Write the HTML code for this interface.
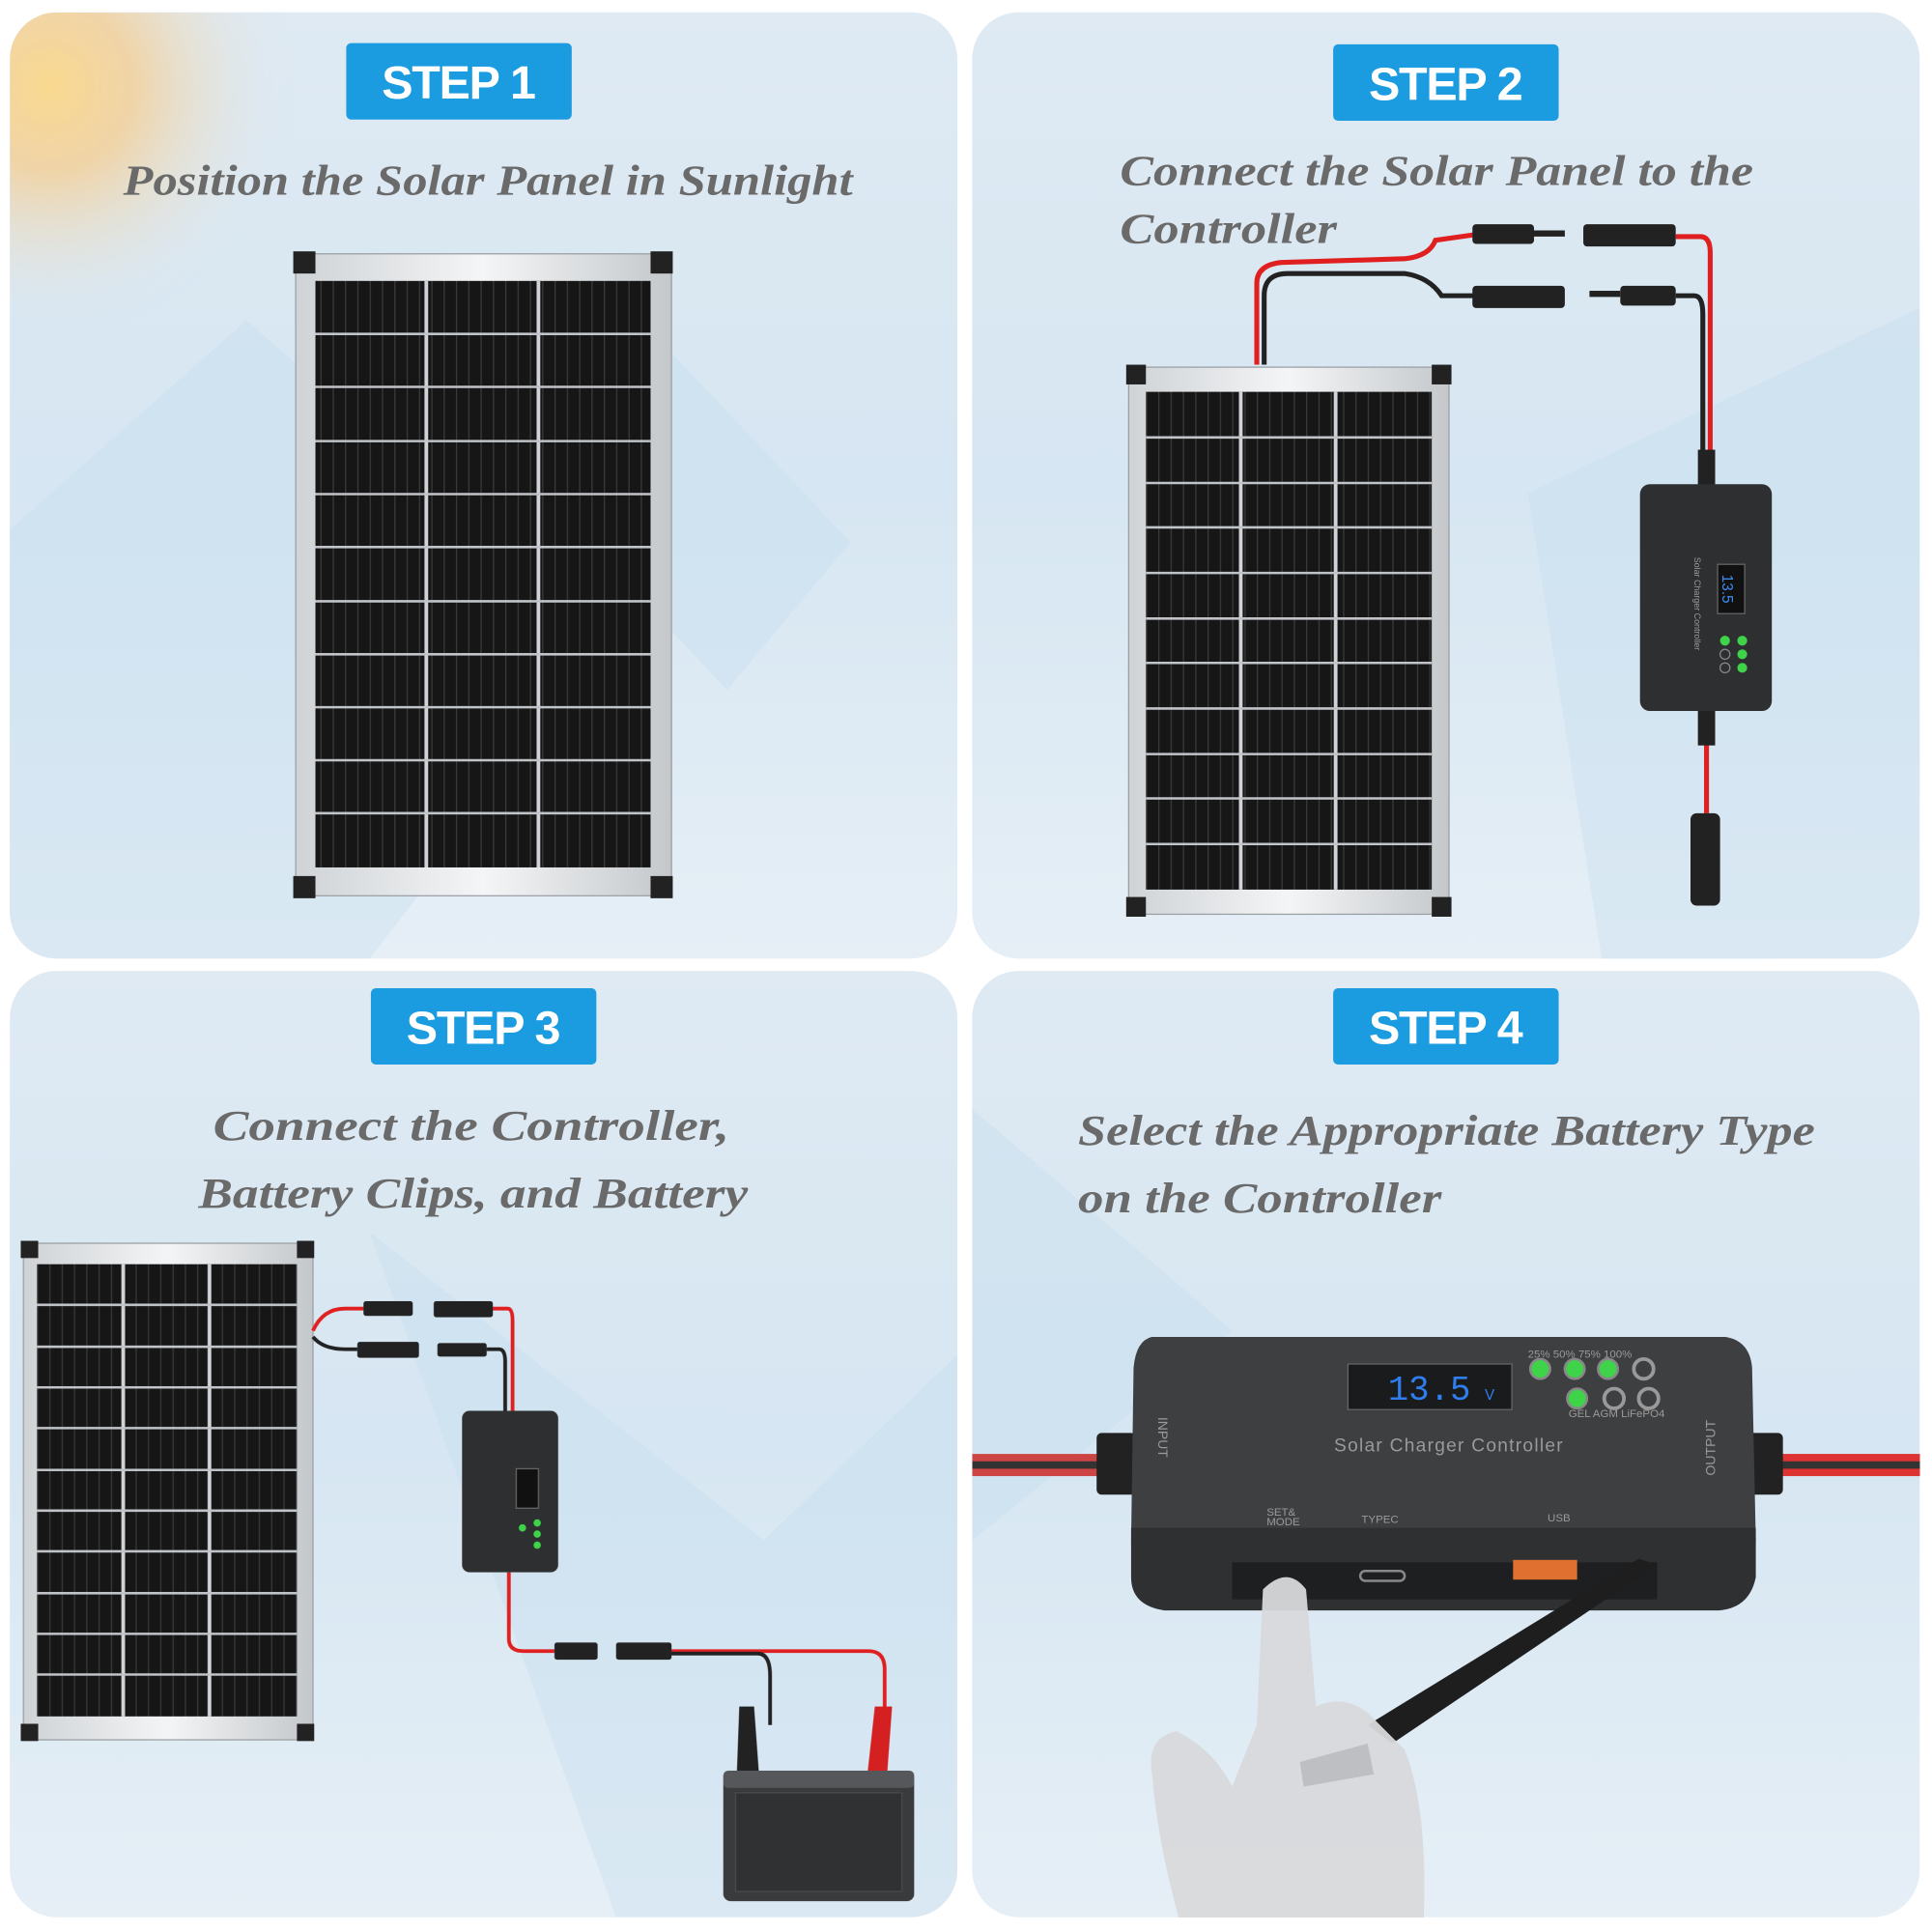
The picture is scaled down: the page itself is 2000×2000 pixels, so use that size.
<!DOCTYPE html>
<html><head><meta charset="utf-8"><style>
html,body{margin:0;padding:0;background:#fff;width:2000px;height:2000px;overflow:hidden}
svg{display:block}
.badge{font-family:"Liberation Sans",sans-serif;font-weight:bold;fill:#fff;font-size:38px;letter-spacing:-1px}
.title{font-family:"Liberation Serif",serif;font-style:italic;font-weight:bold;fill:#6a6a6a;font-size:35px}
.sm{font-family:"Liberation Sans",sans-serif;fill:#9a9a9a}
</style></head><body>
<svg width="2000" height="2000" viewBox="0 0 1568 1568" xmlns="http://www.w3.org/2000/svg">
<defs>
<linearGradient id="bg" x1="0" y1="0" x2="0" y2="1">
<stop offset="0" stop-color="#dfeaf3"/><stop offset="0.5" stop-color="#d6e6f2"/><stop offset="1" stop-color="#e6eff6"/></linearGradient>
<radialGradient id="sun" cx="40" cy="70" r="200" gradientUnits="userSpaceOnUse">
<stop offset="0" stop-color="#f9d98f"/><stop offset="0.35" stop-color="#f4cf96" stop-opacity="0.8"/><stop offset="1" stop-color="#e0ebf4" stop-opacity="0"/></radialGradient>
<pattern id="cell" width="10" height="10" patternUnits="userSpaceOnUse">
<rect width="10" height="10" fill="#161616"/><rect x="0" width="1" height="10" fill="#3a3a3a"/></pattern>
<linearGradient id="frame" x1="0" y1="0" x2="1" y2="0"><stop offset="0" stop-color="#cfd3d6"/><stop offset=".5" stop-color="#f4f5f6"/><stop offset="1" stop-color="#c4c8cb"/></linearGradient>
<clipPath id="q1"><rect x="8" y="10" width="769" height="768" rx="38"/></clipPath>
<clipPath id="q2"><rect x="789" y="10" width="769" height="768" rx="38"/></clipPath>
<clipPath id="q3"><rect x="8" y="788" width="769" height="768" rx="38"/></clipPath>
<clipPath id="q4"><rect x="789" y="788" width="769" height="768" rx="38"/></clipPath>
</defs>
<rect width="1568" height="1568" fill="#fff"/>
<rect x="8" y="10" width="769" height="768" rx="38" fill="url(#bg)"/>
<rect x="789" y="10" width="769" height="768" rx="38" fill="url(#bg)"/>
<rect x="8" y="788" width="769" height="768" rx="38" fill="url(#bg)"/>
<rect x="789" y="788" width="769" height="768" rx="38" fill="url(#bg)"/>
<g opacity="0.35" fill="#c4dcee">
<polygon points="8,430 200,260 500,520 300,778 8,778" clip-path="url(#q1)"/>
<polygon points="520,260 690,440 590,560 440,400"/>
<polygon points="1240,400 1558,250 1558,778 1300,778" clip-path="url(#q2)"/>
<polygon points="300,1000 620,1250 777,1100 777,1556 500,1556" clip-path="url(#q3)"/>
<polygon points="789,900 1000,1080 789,1250" clip-path="url(#q4)"/>
</g>
<rect x="8" y="10" width="769" height="768" rx="38" fill="url(#sun)" clip-path="url(#q1)"/>

<rect x="281" y="35" width="183" height="62" rx="4" fill="#1b9be0"/><text class="badge" x="372" y="80" text-anchor="middle">STEP 1</text>
<rect x="1082" y="36" width="183" height="62" rx="4" fill="#1b9be0"/><text class="badge" x="1173" y="81" text-anchor="middle">STEP 2</text>
<rect x="301" y="802" width="183" height="62" rx="4" fill="#1b9be0"/><text class="badge" x="392" y="847" text-anchor="middle">STEP 3</text>
<rect x="1082" y="802" width="183" height="62" rx="4" fill="#1b9be0"/><text class="badge" x="1173" y="847" text-anchor="middle">STEP 4</text>

<text class="title" x="100" y="158" textLength="592" lengthAdjust="spacingAndGlyphs">Position the Solar Panel in Sunlight</text>
<text class="title" x="909" y="150" textLength="514" lengthAdjust="spacingAndGlyphs">Connect the Solar Panel to the</text>
<text class="title" x="909" y="197" textLength="176" lengthAdjust="spacingAndGlyphs">Controller</text>
<text class="title" x="173" y="925" textLength="419" lengthAdjust="spacingAndGlyphs">Connect the Controller,</text>
<text class="title" x="161" y="980" textLength="446" lengthAdjust="spacingAndGlyphs">Battery Clips, and Battery</text>
<text class="title" x="875" y="929" textLength="598" lengthAdjust="spacingAndGlyphs">Select the Appropriate Battery Type</text>
<text class="title" x="875" y="984" textLength="295" lengthAdjust="spacingAndGlyphs">on the Controller</text>

<g>
<rect x="240" y="206" width="305" height="521" fill="url(#frame)" stroke="#9aa0a5"/>
<rect x="256" y="228" width="272" height="476" fill="url(#cell)"/>
<g stroke="#d0d4d8" stroke-width="3"><line x1="346" y1="228" x2="346" y2="704"/><line x1="437" y1="228" x2="437" y2="704"/></g>
<g stroke="#c0c4c8" stroke-width="2">
<line x1="256" y1="271" x2="528" y2="271"/><line x1="256" y1="314" x2="528" y2="314"/><line x1="256" y1="358" x2="528" y2="358"/><line x1="256" y1="401" x2="528" y2="401"/><line x1="256" y1="444" x2="528" y2="444"/><line x1="256" y1="488" x2="528" y2="488"/><line x1="256" y1="531" x2="528" y2="531"/><line x1="256" y1="574" x2="528" y2="574"/><line x1="256" y1="617" x2="528" y2="617"/><line x1="256" y1="660" x2="528" y2="660"/></g>
<g fill="#222"><rect x="238" y="204" width="18" height="18"/><rect x="528" y="204" width="18" height="18"/><rect x="238" y="711" width="18" height="18"/><rect x="528" y="711" width="18" height="18"/></g>
</g>
<g>
<rect x="916" y="298" width="260" height="444" fill="url(#frame)" stroke="#9aa0a5"/>
<rect x="930" y="318" width="232" height="404" fill="url(#cell)"/>
<g stroke="#d0d4d8" stroke-width="3"><line x1="1007" y1="318" x2="1007" y2="722"/><line x1="1084" y1="318" x2="1084" y2="722"/></g>
<g stroke="#c0c4c8" stroke-width="2">
<line x1="930" y1="355" x2="1162" y2="355"/><line x1="930" y1="392" x2="1162" y2="392"/><line x1="930" y1="428" x2="1162" y2="428"/><line x1="930" y1="465" x2="1162" y2="465"/><line x1="930" y1="502" x2="1162" y2="502"/><line x1="930" y1="538" x2="1162" y2="538"/><line x1="930" y1="575" x2="1162" y2="575"/><line x1="930" y1="612" x2="1162" y2="612"/><line x1="930" y1="648" x2="1162" y2="648"/><line x1="930" y1="685" x2="1162" y2="685"/></g>
<g fill="#222"><rect x="914" y="296" width="16" height="16"/><rect x="1162" y="296" width="16" height="16"/><rect x="914" y="728" width="16" height="16"/><rect x="1162" y="728" width="16" height="16"/></g>
</g>
<g fill="none" stroke-width="4">
<path d="M1020,296 V230 Q1020,215 1040,213 L1140,210 Q1160,208 1165,195 L1200,190" stroke="#e02020"/>
<path d="M1026,296 V240 Q1026,222 1045,222 L1140,222 Q1160,225 1170,240 L1200,240" stroke="#222"/>
<path d="M1360,192 H1380 Q1388,192 1388,205 V370" stroke="#e02020"/>
<path d="M1360,240 H1375 Q1382,240 1382,255 V370" stroke="#222"/>
<path d="M1385,577 V660" stroke="#e02020"/>
</g>
<g fill="#222">
<rect x="1195" y="182" width="50" height="16" rx="3"/><rect x="1245" y="187" width="25" height="5"/>
<rect x="1285" y="182" width="75" height="18" rx="3"/>
<rect x="1195" y="232" width="75" height="18" rx="3"/>
<rect x="1290" y="236" width="25" height="5"/><rect x="1315" y="232" width="45" height="16" rx="3"/>
<rect x="1378" y="365" width="14" height="30"/><rect x="1378" y="575" width="14" height="30"/>
<rect x="1372" y="660" width="24" height="75" rx="5"/>
</g>
<rect x="1331" y="393" width="107" height="184" rx="8" fill="#2e2f31"/>
<rect x="1394" y="458" width="22" height="40" fill="#111" stroke="#666"/>
<text x="1405" y="485" font-size="12" fill="#3c8cf0" text-anchor="middle" transform="rotate(90 1405 478)" font-family="Liberation Sans">13.5</text>
<g fill="#3fd34a"><circle cx="1400" cy="520" r="4"/><circle cx="1414" cy="520" r="4"/><circle cx="1414" cy="531" r="4"/><circle cx="1414" cy="542" r="4"/></g>
<g fill="none" stroke="#888"><circle cx="1400" cy="531" r="4"/><circle cx="1400" cy="542" r="4"/></g>
<text x="1375" y="490" class="sm" font-size="7" transform="rotate(90 1375 490)" text-anchor="middle">Solar Charger Controller</text>

<g>
<rect x="19" y="1009" width="235" height="403" fill="url(#frame)" stroke="#9aa0a5"/>
<rect x="30" y="1026" width="211" height="367" fill="url(#cell)"/>
<g stroke="#d0d4d8" stroke-width="3"><line x1="100" y1="1026" x2="100" y2="1393"/><line x1="170" y1="1026" x2="170" y2="1393"/></g>
<g stroke="#c0c4c8" stroke-width="2">
<line x1="30" y1="1059" x2="241" y2="1059"/><line x1="30" y1="1093" x2="241" y2="1093"/><line x1="30" y1="1126" x2="241" y2="1126"/><line x1="30" y1="1159" x2="241" y2="1159"/><line x1="30" y1="1193" x2="241" y2="1193"/><line x1="30" y1="1226" x2="241" y2="1226"/><line x1="30" y1="1259" x2="241" y2="1259"/><line x1="30" y1="1293" x2="241" y2="1293"/><line x1="30" y1="1326" x2="241" y2="1326"/><line x1="30" y1="1359" x2="241" y2="1359"/></g>
<g fill="#222"><rect x="17" y="1007" width="14" height="14"/><rect x="241" y="1007" width="14" height="14"/><rect x="17" y="1399" width="14" height="14"/><rect x="241" y="1399" width="14" height="14"/></g>
</g>
<g fill="none" stroke-width="3">
<path d="M254,1080 Q262,1062 280,1062 H295" stroke="#e02020"/>
<path d="M254,1085 Q262,1095 280,1095 H290" stroke="#222"/>
<path d="M400,1062 H412 Q416,1062 416,1072 V1145" stroke="#e02020"/>
<path d="M395,1095 H405 Q410,1095 410,1105 V1145" stroke="#222"/>
<path d="M413,1276 V1330 Q413,1340 425,1340 H450" stroke="#e02020"/>
<path d="M545,1340 H705 Q718,1340 718,1355 V1400" stroke="#e02020"/>
<path d="M545,1342 H615 Q625,1342 625,1360 V1400" stroke="#222"/>
</g>
<g fill="#222">
<rect x="295" y="1056" width="40" height="12" rx="2"/><rect x="352" y="1056" width="48" height="13" rx="2"/>
<rect x="290" y="1089" width="50" height="13" rx="2"/><rect x="355" y="1090" width="40" height="11" rx="2"/>
<rect x="450" y="1333" width="35" height="14" rx="2"/><rect x="500" y="1333" width="45" height="14" rx="2"/>
<path d="M600,1385 L612,1385 L616,1440 L598,1440Z"/>
</g>
<path d="M710,1385 L724,1385 L720,1440 L704,1440Z" fill="#d42020"/>
<rect x="375" y="1145" width="78" height="131" rx="6" fill="#2e2f31"/>
<rect x="419" y="1192" width="18" height="32" fill="#111" stroke="#666"/>
<g fill="#3fd34a"><circle cx="424" cy="1240" r="3"/><circle cx="436" cy="1236" r="3"/><circle cx="436" cy="1245" r="3"/><circle cx="436" cy="1254" r="3"/></g>
<rect x="587" y="1437" width="155" height="106" rx="6" fill="#3a3b3d"/>
<rect x="587" y="1437" width="155" height="14" rx="4" fill="#55575a"/>
<rect x="597" y="1455" width="135" height="80" fill="#303133" stroke="#4a4b4d"/>

<g clip-path="url(#q4)">
<rect x="789" y="1180" width="140" height="18" fill="#c44"/>
<rect x="789" y="1186" width="140" height="6" fill="#333"/>
<rect x="1420" y="1180" width="140" height="18" fill="#d33"/>
<rect x="1420" y="1186" width="140" height="6" fill="#333"/>
<rect x="890" y="1163" width="32" height="50" rx="4" fill="#222"/>
<rect x="1415" y="1163" width="32" height="50" rx="4" fill="#222"/>
<path d="M935,1085 H1400 Q1420,1088 1422,1110 L1425,1250 Q1425,1300 1395,1305 H940 Q918,1300 918,1250 L920,1110 Q922,1088 935,1085Z" fill="#3e3f41"/>
<path d="M918,1240 H1425 L1425,1280 Q1420,1305 1395,1307 H945 Q918,1303 918,1280Z" fill="#2f3032"/>
<rect x="1000" y="1268" width="345" height="30" fill="#1e1f20"/>
<rect x="1104" y="1275" width="36" height="8" rx="4" fill="none" stroke="#888" stroke-width="2"/>
<rect x="1228" y="1266" width="52" height="16" fill="#e07030"/>
<rect x="1094" y="1107" width="133" height="37" fill="#1a1b1c" stroke="#666"/>
<text x="1160" y="1136" font-family="Liberation Mono,monospace" font-size="28" fill="#2f7ef0" text-anchor="middle">13.5</text>
<text x="1205" y="1136" font-family="Liberation Sans" font-size="12" fill="#2f7ef0">V</text>
<g fill="#3fd34a" stroke="#888" stroke-width="2"><circle cx="1250" cy="1111" r="8"/><circle cx="1278" cy="1111" r="8"/><circle cx="1305" cy="1111" r="8"/><circle cx="1280" cy="1135" r="8"/></g>
<g fill="none" stroke="#999" stroke-width="3"><circle cx="1334" cy="1111" r="8"/><circle cx="1310" cy="1135" r="8"/><circle cx="1338" cy="1135" r="8"/></g>
<text class="sm" x="1240" y="1102" font-size="9">25%  50%  75%  100%</text>
<text class="sm" x="1273" y="1150" font-size="9">GEL  AGM  LiFePO4</text>
<text class="sm" x="1176" y="1178" font-size="15" text-anchor="middle" letter-spacing="1">Solar Charger Controller</text>
<text class="sm" x="1028" y="1230" font-size="9">SET&amp;</text><text class="sm" x="1028" y="1238" font-size="9">MODE</text>
<text class="sm" x="1105" y="1236" font-size="9">TYPEC</text>
<text class="sm" x="1256" y="1235" font-size="9">USB</text>
<text class="sm" x="940" y="1150" font-size="11" transform="rotate(90 940 1150)">INPUT</text>
<text class="sm" x="1392" y="1175" font-size="11" transform="rotate(-90 1392 1175)" text-anchor="middle">OUTPUT</text>
<path d="M1330,1265 L1345,1270 L1130,1415 L1110,1400Z" fill="#1e1e1f"/>
<path d="M1025,1290 Q1045,1270 1060,1290 L1068,1385 Q1090,1375 1110,1390 L1140,1420 Q1160,1470 1155,1568 H960 Q940,1500 935,1440 Q930,1410 955,1405 Q985,1420 1000,1450 L1020,1400Z" fill="#d8d9db" opacity="0.95"/>
<path d="M1055,1430 L1110,1415 L1115,1440 L1058,1450Z" fill="#bdbfc2"/>
</g>
</svg>
</body></html>
